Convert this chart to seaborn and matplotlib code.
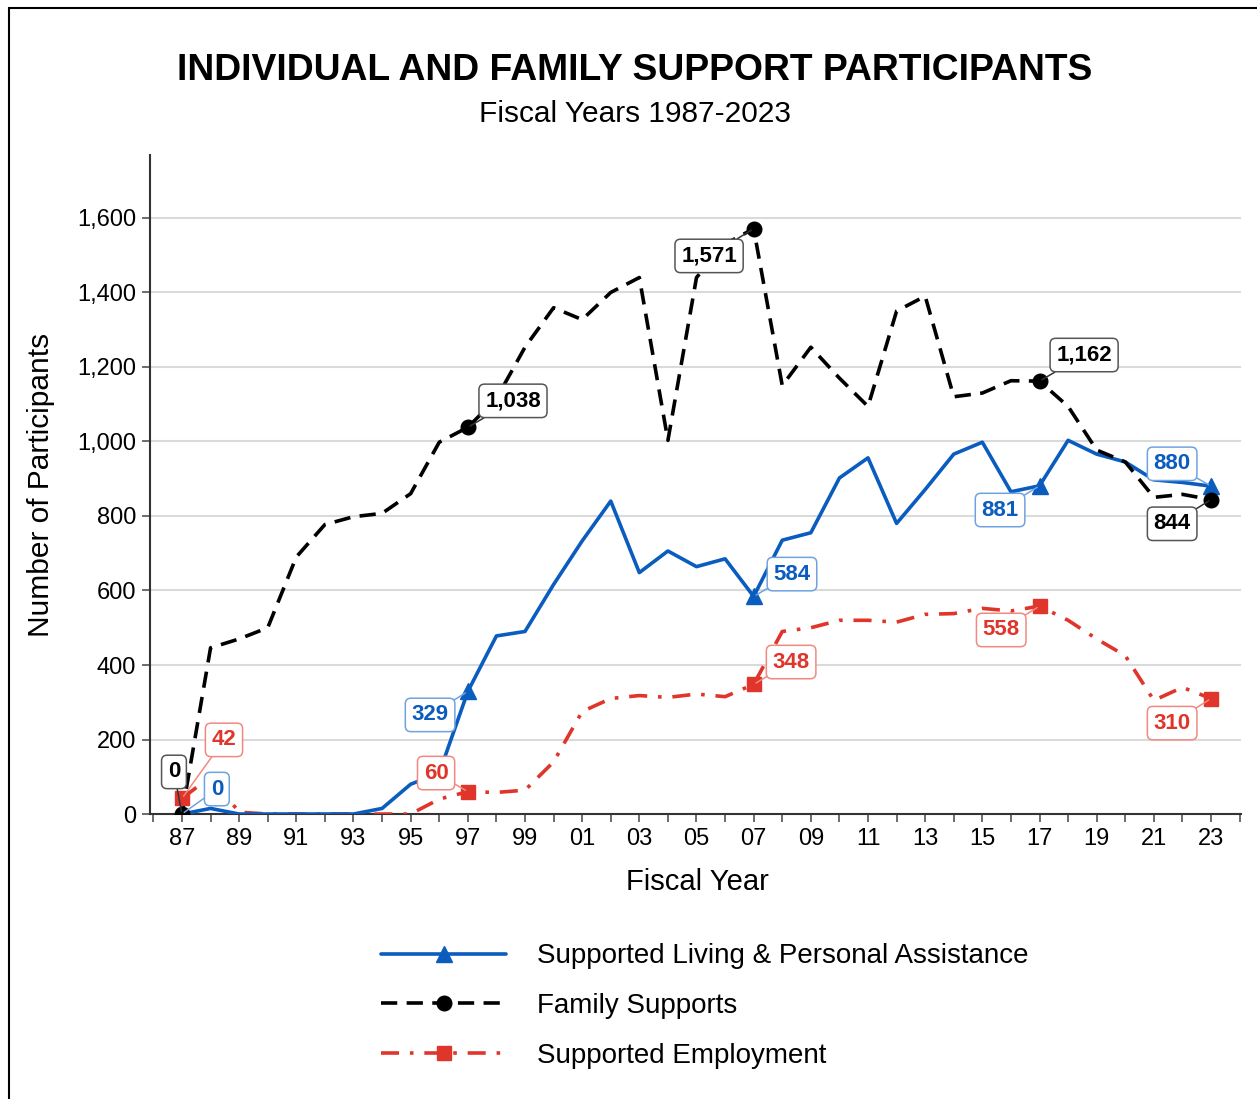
import numpy as np
import pandas as pd
import matplotlib
matplotlib.use("Agg")
import matplotlib.pyplot as plt
import seaborn as sns
from matplotlib.lines import Line2D
from matplotlib.patches import Rectangle
from matplotlib.ticker import MultipleLocator, FixedLocator, FuncFormatter

# ---------------- data ----------------
years = list(range(1987, 2024))
supported_living = [0, 15, 0, 0, 0, 0, 0, 15, 80, 110, 329, 478, 490, 616, 733, 840,
                    648, 706, 664, 685, 584, 735, 755, 902, 956, 780, 871, 966, 998,
                    865, 881, 1003, 966, 945, 897, 890, 880]
family_supports = [0, 446, 470, 500, 690, 777, 798, 807, 860, 998, 1038, 1115, 1253,
                   1359, 1327, 1400, 1440, 1003, 1440, 1530, 1571, 1150, 1253, 1170,
                   1094, 1350, 1390, 1120, 1130, 1163, 1162, 1094, 977, 945, 850, 858, 844]
supported_employment = [42, 100, 5, 0, 0, 0, 0, 0, 0, 40, 60, 58, 64, 140, 275, 310,
                        318, 313, 322, 315, 348, 490, 500, 520, 520, 515, 536, 538, 552,
                        545, 558, 520, 470, 425, 305, 340, 310]
marker_years = [1987, 1997, 2007, 2017, 2023]
series_names = ["Supported Living & Personal Assistance", "Family Supports",
                "Supported Employment"]
tick_years = list(range(1987, 2024, 2))
tick_labels = [f"{y % 100:02d}" for y in tick_years]
y_ticks = [0, 200, 400, 600, 800, 1000, 1200, 1400, 1600]

# label box positions (layout only)
label_pos = {
    "Supported Living & Personal Assistance": [(1988.22, 67), (1995.68, 266), (2008.34, 644),
                                               (2015.62, 816), (2021.64, 940)],
    "Family Supports": [(1986.72, 113), (1998.58, 1109), (2005.44, 1498),
                        (2018.56, 1232), (2021.64, 779)],
    "Supported Employment": [(1988.47, 199), (1995.89, 110), (2008.31, 408),
                             (2015.66, 494), (2021.64, 244)],
}

# ---------------- style ----------------
sns.set_theme(style="white")
plt.rcParams['font.family'] = ['Liberation Sans', 'DejaVu Sans']
plt.rcParams['text.color'] = 'black'
plt.rcParams['axes.labelcolor'] = 'black'
plt.rcParams['xtick.color'] = 'black'
plt.rcParams['ytick.color'] = 'black'

blue = '#0a5cbf'
red = '#e0352b'
black = '#000000'

styles = {
    series_names[0]: dict(color=blue, ls='-', marker='^', ms=12, lw=2.6,
                          text=blue, edge='#6fa3e0'),
    series_names[1]: dict(color=black, ls=(0, (4.5, 2.6)), marker='o', ms=10.5, lw=2.6,
                          text=black, edge='#555555'),
    series_names[2]: dict(color=red, ls=(0, (5, 3, 1, 3)), marker='s', ms=10.5, lw=2.6,
                          text=red, edge='#f08a80'),
}

df = pd.DataFrame({
    "year": years * 3,
    "value": supported_living + family_supports + supported_employment,
    "series": [series_names[0]] * len(years) + [series_names[1]] * len(years)
              + [series_names[2]] * len(years),
})

fig = plt.figure(figsize=(12.57, 10.99), dpi=100)
ax = fig.add_axes([0.1193, 0.2593, 0.8680, 0.5997])

order = [series_names[2], series_names[0], series_names[1]]
for name in order:
    st = styles[name]
    sub = df[df.series == name]
    sns.lineplot(data=sub, x="year", y="value", ax=ax, color=st['color'],
                 linewidth=st['lw'], linestyle=st['ls'], legend=False, zorder=3)
    mk = sub[sub.year.isin(marker_years)]
    ax.plot(mk.year, mk.value, linestyle='none', marker=st['marker'],
            markersize=st['ms'], color=st['color'], zorder=4)

# annotations
for name in series_names:
    st = styles[name]
    sub = df[df.series == name].set_index("year")
    for yr, (lx, ly) in zip(marker_years, label_pos[name]):
        v = sub.loc[yr, "value"]
        ax.annotate(f"{int(v):,}", xy=(yr, v), xytext=(lx, ly), textcoords='data',
                    ha='center', va='center', fontsize=16, fontweight='bold',
                    color=st['text'], zorder=6,
                    bbox=dict(boxstyle='round,pad=0.28,rounding_size=0.25', fc='white',
                              ec=st['edge'], lw=1.1),
                    arrowprops=dict(arrowstyle='-',
                                    color=st['edge'] if name != series_names[1] else '#333333',
                                    lw=1.1, shrinkA=0, shrinkB=2))

# axes
ax.set_xlim(1985.88, 2024.05)
ax.set_ylim(0, 1769)
ax.xaxis.set_major_locator(FixedLocator(tick_years))
ax.set_xticklabels(tick_labels)
ax.xaxis.set_minor_locator(MultipleLocator(1))
ax.yaxis.set_major_locator(FixedLocator(y_ticks))
ax.yaxis.set_major_formatter(FuncFormatter(lambda v, p: f"{int(v):,}"))
ax.tick_params(axis='both', which='both', direction='out', length=6, width=1.1,
               color='#444444', labelsize=17, labelcolor='black', pad=4,
               bottom=True, left=True)
ax.yaxis.grid(True, color='#dadada', lw=1.5)
ax.xaxis.grid(False)
ax.set_axisbelow(True)
for s in ['top', 'right']:
    ax.spines[s].set_visible(False)
for s in ['left', 'bottom']:
    ax.spines[s].set_color('#333333')
    ax.spines[s].set_linewidth(1.5)
ax.set_xlabel("")
ax.set_ylabel("")

fig.text(0.5545, 0.197, "Fiscal Year", ha='center', va='center', fontsize=21,
         color='black')
fig.text(0.033, 0.5587, "Number of Participants", ha='center', va='center',
         fontsize=21.5, rotation=90, color='black')
fig.text(0.505, 0.936, "INDIVIDUAL AND FAMILY SUPPORT PARTICIPANTS", ha='center',
         va='center', fontsize=26.8, fontweight='bold', color='black')
fig.text(0.505, 0.896, "Fiscal Years 1987-2023", ha='center', va='center',
         fontsize=21.5, color='black')

handles = [Line2D([0], [0], color=styles[n]['color'], lw=styles[n]['lw'],
                  linestyle=styles[n]['ls'], marker=styles[n]['marker'],
                  markersize=styles[n]['ms']) for n in series_names]
leg = fig.legend(handles, series_names, loc='center', bbox_to_anchor=(0.5605, 0.0846),
                 frameon=False, fontsize=20, handlelength=4.5, handletextpad=1.1,
                 labelspacing=0.85, borderpad=0.2)
for t in leg.get_texts():
    t.set_color('black')

fig.patches.append(Rectangle((9 / 1257, -0.05), 1.2, 1 - 8 / 1099 + 0.05,
                             transform=fig.transFigure, fill=False, ec='black',
                             lw=1.5, clip_on=False))

fig.savefig("out.png", dpi=100, facecolor='white')
